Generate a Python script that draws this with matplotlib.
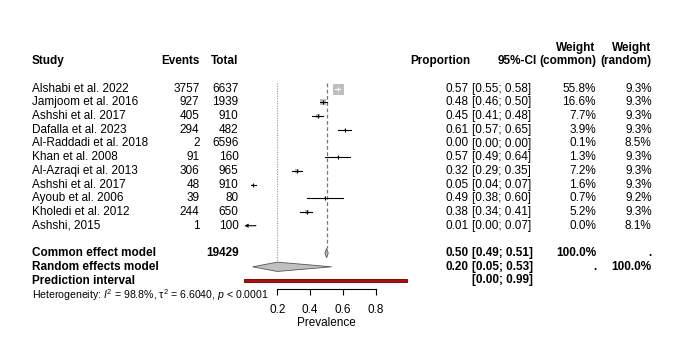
import matplotlib
matplotlib.use("Agg")
import matplotlib.pyplot as plt
from matplotlib.patches import Polygon, Rectangle
from matplotlib.transforms import blended_transform_factory

plt.rcParams["font.family"] = ["Liberation Sans", "DejaVu Sans"]
plt.rcParams["mathtext.fontset"] = "custom"
plt.rcParams["mathtext.rm"] = "Liberation Sans"
plt.rcParams["mathtext.it"] = "Liberation Sans:italic"

# study level data
studies = ["Alshabi et al. 2022", "Jamjoom et al. 2016", "Ashshi et al. 2017",
           "Dafalla et al. 2023", "Al-Raddadi et al. 2018", "Khan et al. 2008",
           "Al-Azraqi et al. 2013", "Ashshi et al. 2017", "Ayoub et al. 2006",
           "Kholedi et al. 2012", "Ashshi, 2015"]
events = [3757, 927, 405, 294, 2, 91, 306, 48, 39, 244, 1]
totals = [6637, 1939, 910, 482, 6596, 160, 965, 910, 80, 650, 100]
prop = [0.57, 0.48, 0.45, 0.61, 0.00, 0.57, 0.32, 0.05, 0.49, 0.38, 0.01]
ci_lo = [0.55, 0.46, 0.41, 0.57, 0.00, 0.49, 0.29, 0.04, 0.38, 0.34, 0.00]
ci_hi = [0.58, 0.50, 0.48, 0.65, 0.00, 0.64, 0.35, 0.07, 0.60, 0.41, 0.07]
w_common = [55.8, 16.6, 7.7, 3.9, 0.1, 1.3, 7.2, 1.6, 0.7, 5.2, 0.0]
w_random = [9.3, 9.3, 9.3, 9.3, 8.5, 9.3, 9.3, 9.3, 9.2, 9.3, 8.1]
arrow_left = [False] * 10 + [True]

# pooled results
total_n = 19429
common_est, common_lo, common_hi = 0.50, 0.49, 0.51
random_est, random_lo, random_hi = 0.20, 0.05, 0.53
pred_lo, pred_hi = 0.00, 0.99
het_text = "Heterogeneity: $I^2$ = 98.8%, τ$^2$ = 6.6040, $p$ < 0.0001"
x_ticks = [0.2, 0.4, 0.6, 0.8]

W, H = 685, 343
fig = plt.figure(figsize=(6.85, 3.43), dpi=100)
row_px, row0_px = 13.7, 88.7
ax = fig.add_axes([244.4 / W, 0, 164.4 / W, 1])
ax.set_xlim(0, 1)
ax.set_ylim((H - row0_px) / row_px, -row0_px / row_px)
ax.patch.set_alpha(0)

fs = 8.5
tr = blended_transform_factory(fig.transFigure, ax.transData)


def put(xpx, row, s, ha="left", bold=False, size=fs):
    ax.text(xpx / W, row, s, ha=ha, va="center", transform=tr,
            fontsize=size, fontweight="bold" if bold else "normal")


# header
put(32, -2, "Study", bold=True)
put(199.5, -2, "Events", ha="right", bold=True)
put(238.5, -2, "Total", ha="right", bold=True)
put(470, -2, "Proportion", ha="right", bold=True)
put(536.7, -2, "95%-CI", ha="right", bold=True)
put(595, -3, "Weight", ha="right", bold=True)
put(596, -2, "(common)", ha="right", bold=True)
put(651, -3, "Weight", ha="right", bold=True)
put(651.7, -2, "(random)", ha="right", bold=True)

# study rows
max_side = 11.0
for i, name in enumerate(studies):
    put(32, i, name)
    put(199.5, i, f"{events[i]}", ha="right")
    put(238.5, i, f"{totals[i]}", ha="right")
    put(468.5, i, f"{prop[i]:.2f}", ha="right")
    put(472, i, f"[{ci_lo[i]:.2f}; {ci_hi[i]:.2f}]")
    put(596, i, f"{w_common[i]:.1f}%", ha="right")
    put(651.7, i, f"{w_random[i]:.1f}%", ha="right")

    side = max_side * (w_common[i] / max(w_common)) ** 0.5
    half = side / 2 / 164.4
    if arrow_left[i]:
        ax.annotate("", xy=(ci_lo[i], i), xytext=(ci_hi[i], i),
                    arrowprops=dict(arrowstyle="->", lw=0.8, color="black",
                                    shrinkA=0, shrinkB=0, mutation_scale=5))
        continue
    if side > 0:
        ax.scatter([prop[i]], [i], marker="s", s=(side * 0.72) ** 2,
                   color="#BEBEBE", linewidths=0, zorder=2)
    inside = ci_lo[i] > prop[i] - half and ci_hi[i] < prop[i] + half
    col = "white" if inside else "black"
    ax.plot([ci_lo[i], ci_hi[i]], [i, i], color=col, lw=0.8, zorder=3)
    ax.plot([prop[i]], [i], marker="|", ms=3, mew=0.8, color=col, zorder=3)

# summary rows
rc, rr, rp = 12, 13, 14
put(32, rc, "Common effect model", bold=True)
put(238.5, rc, f"{total_n}", ha="right", bold=True)
put(468.5, rc, f"{common_est:.2f}", ha="right", bold=True)
put(472, rc, f"[{common_lo:.2f}; {common_hi:.2f}]", bold=True)
put(596, rc, "100.0%", ha="right", bold=True)
put(651.7, rc, ".", ha="right", bold=True)

put(32, rr, "Random effects model", bold=True)
put(468.5, rr, f"{random_est:.2f}", ha="right", bold=True)
put(472, rr, f"[{random_lo:.2f}; {random_hi:.2f}]", bold=True)
put(596, rr, ".", ha="right", bold=True)
put(651.7, rr, "100.0%", ha="right", bold=True)

put(32, rp, "Prediction interval", bold=True)
put(472, rp, f"[{pred_lo:.2f}; {pred_hi:.2f}]", bold=True)

put(32, 15.1, het_text, size=7.6)

dh = 0.34
for est, lo, hi, row in [(common_est, common_lo, common_hi, rc),
                         (random_est, random_lo, random_hi, rr)]:
    ax.add_patch(Polygon([(lo, row), (est, row - dh), (hi, row), (est, row + dh)],
                         closed=True, facecolor="#C0C0C0", edgecolor="#555555",
                         lw=0.6, zorder=4))
ax.add_patch(Rectangle((pred_lo, rp - 0.11), pred_hi - pred_lo, 0.22,
                       facecolor="#D00000", edgecolor="#5A0000", lw=0.6, zorder=4))

# reference lines for the pooled estimates
ax.plot([common_est, common_est], [-0.4, rc - dh], ls=(0, (3, 2)),
        color="#777777", lw=0.9, zorder=1)
ax.plot([random_est, random_est], [-0.4, rr - dh], ls=(0, (1, 1.2)),
        color="#999999", lw=0.8, zorder=1)

# x axis
for s in ["top", "left", "right"]:
    ax.spines[s].set_visible(False)
ax.spines["bottom"].set_position(("data", 14.64))
ax.spines["bottom"].set_bounds(x_ticks[0], x_ticks[-1])
ax.spines["bottom"].set_linewidth(0.8)
ax.set_yticks([])
ax.set_xticks(x_ticks)
ax.set_xticklabels([f"{t:.1f}" for t in x_ticks], fontsize=fs)
ax.tick_params(axis="x", direction="out", length=4.3, width=0.8, pad=6.5)
ax.text(0.5, 17.1, "Prevalence", ha="center", va="center", fontsize=fs)

fig.savefig("out.png", dpi=100)
